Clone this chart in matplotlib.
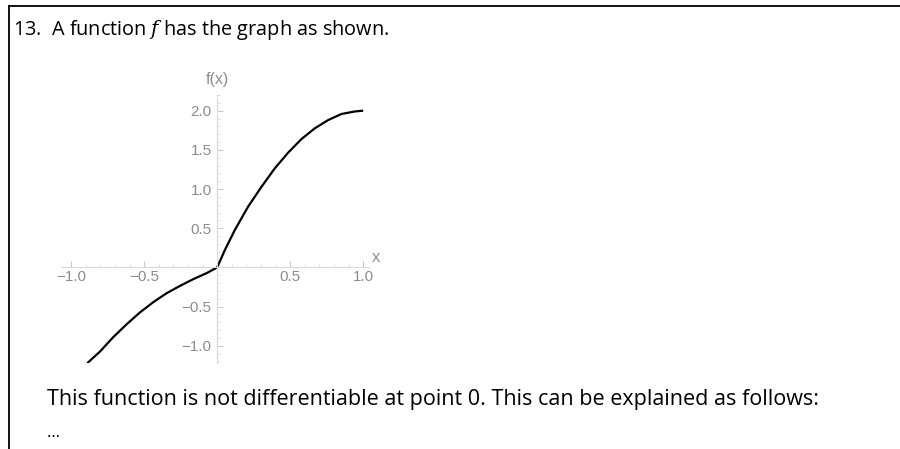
import matplotlib
matplotlib.use('Agg')
from matplotlib import pyplot as plt
from matplotlib.lines import Line2D
from matplotlib.ticker import MultipleLocator

# values
x_left = [-0.89, -0.803, -0.712, -0.62, -0.53, -0.438, -0.347, -0.255, -0.164, -0.073, 0.0]
y_left = [-1.222, -1.074, -0.89, -0.725, -0.576, -0.444, -0.33, -0.236, -0.15, -0.074, 0.0]
x_right = [0.0, 0.053, 0.121, 0.212, 0.304, 0.395, 0.486, 0.578, 0.669, 0.76, 0.852, 0.943, 1.0]
y_right = [0.0, 0.223, 0.478, 0.776, 1.03, 1.265, 1.464, 1.639, 1.775, 1.88, 1.958, 1.99, 2.0]

x_major = [-1.0, -0.5, 0.5, 1.0]
y_major = [-1.0, -0.5, 0.5, 1.0, 1.5, 2.0]
x_labels = ['\u22121.0', '\u22120.5', '0.5', '1.0']
y_labels = ['\u22121.0', '\u22120.5', '0.5', '1.0', '1.5', '2.0']

title = "13.  A function $f$ has the graph as shown."
note = "This function is not differentiable at point 0. This can be explained as follows:"

grey = '#8c8c8c'
axis_grey = '#d9d9d9'

plt.rcParams['mathtext.fontset'] = 'dejavuserif'

fig = plt.figure(figsize=(9, 4.49), dpi=100)
fig.patch.set_facecolor('white')

# page frame (left and top rules)
fig.add_artist(Line2D([9/900, 9/900], [0, 1 - 6/449], color='black', lw=1.3))
fig.add_artist(Line2D([9/900, 1], [1 - 6/449, 1 - 6/449], color='black', lw=1.3))

fig.text(13/900, 1 - 30/449, title, fontsize=14.3, family='Open Sans', va='center', ha='left')
fig.text(47/900, 1 - 400/449, note, fontsize=15.5, family='Open Sans', va='center', ha='left')
fig.text(47/900, 1 - 433/449, "\u2026", fontsize=12, family='Open Sans', va='center', ha='left')

axes = fig.add_axes([61/900, (449 - 363)/449, 308/900, 268/449])
axes.set_xlim(-1.07, 1.04)
axes.set_ylim(-1.22, 2.2)
axes.patch.set_alpha(0)

for side in ['top', 'right']:
    axes.spines[side].set_visible(False)
axes.spines['left'].set_position(('data', 0))
axes.spines['bottom'].set_position(('data', 0))
for side in ['left', 'bottom']:
    axes.spines[side].set_color(axis_grey)
    axes.spines[side].set_linewidth(0.8)

axes.set_xticks(x_major)
axes.set_yticks(y_major)
axes.set_xticklabels(x_labels, family='Liberation Sans')
axes.set_yticklabels(y_labels, family='Liberation Sans')
axes.xaxis.set_minor_locator(MultipleLocator(0.1))
axes.yaxis.set_minor_locator(MultipleLocator(0.1))
axes.tick_params(axis='both', which='major', direction='in', length=4, width=0.7,
                 color='#c8c8c8', labelcolor=grey, labelsize=11)
axes.tick_params(axis='both', which='minor', direction='in', length=2, width=0.6,
                 color='#d8d8d8')
axes.tick_params(axis='x', which='major', pad=2)
axes.tick_params(axis='y', which='major', pad=4)

axes.plot(x_left, y_left, color='black', lw=1.6, solid_capstyle='butt')
axes.plot(x_right, y_right, color='black', lw=1.6, solid_capstyle='butt')

axes.text(1.06, 0.03, 'x', color=grey, fontsize=12, family='Liberation Sans',
          ha='left', va='bottom', clip_on=False)
axes.text(0, 2.3, 'f(x)', color=grey, fontsize=11.5, family='Liberation Sans',
          ha='center', va='bottom', clip_on=False)

fig.savefig('out.png', dpi=100)
